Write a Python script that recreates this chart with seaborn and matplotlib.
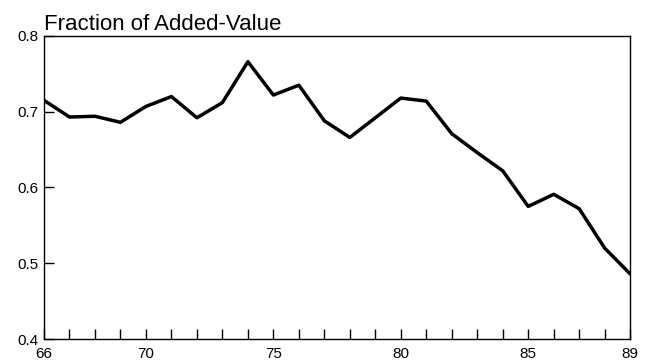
import matplotlib
matplotlib.use("Agg")
import matplotlib.pyplot as plt
import seaborn as sns
import pandas as pd

years = list(range(66, 90))
values = [0.715, 0.693, 0.694, 0.686, 0.707, 0.720, 0.692, 0.712, 0.766, 0.722,
          0.735, 0.688, 0.666, 0.692, 0.718, 0.714, 0.671, 0.646, 0.622, 0.575,
          0.591, 0.572, 0.520, 0.486]
xtick_labels = [66, 70, 75, 80, 85, 89]
yticks = [0.4, 0.5, 0.6, 0.7, 0.8]
title = "Fraction of Added-Value"

sns.set_theme(style="ticks")
plt.rcParams['font.family'] = ['Liberation Sans', 'DejaVu Sans']

df = pd.DataFrame({"year": years, "value": values})

fig = plt.figure(figsize=(6.52, 3.63), dpi=100)
ax = fig.add_axes([0.0675, 0.066, 0.899, 0.835])
sns.lineplot(data=df, x="year", y="value", ax=ax, color="black", linewidth=2.5)

ax.set_xlim(66, 89)
ax.set_ylim(0.4, 0.8)
ax.set_xticks(years, minor=True)
ax.set_xticks(xtick_labels)
ax.set_xticklabels([str(v) for v in xtick_labels])
ax.set_yticks(yticks)
ax.set_yticklabels([f"{v:.1f}" for v in yticks])
ax.tick_params(axis="x", which="both", direction="in", length=7, width=1, labelsize=11, pad=6, colors="black")
ax.tick_params(axis="y", which="both", direction="in", length=7, width=1, labelsize=11, pad=4, colors="black")
ax.set_xlabel("")
ax.set_ylabel("")
for s in ax.spines.values():
    s.set_visible(True)
    s.set_color("black")
    s.set_linewidth(1.0)
ax.set_title(title, loc="left", fontsize=16, pad=4, color="black", x=0.0)

fig.savefig("out.png", dpi=100)
